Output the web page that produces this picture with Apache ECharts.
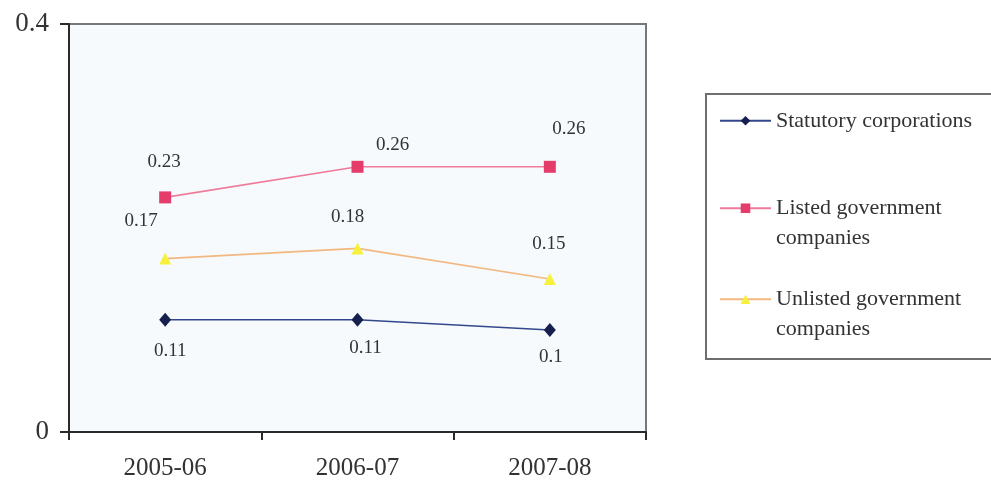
<!DOCTYPE html>
<html>
<head>
<meta charset="utf-8">
<script src="https://cdn.jsdelivr.net/npm/echarts@6/dist/echarts.min.js"></script>
<style>
  html, body { margin: 0; padding: 0; background: #ffffff; }
  #chart { width: 991px; height: 484px; }
</style>
</head>
<body>
<div id="chart"></div>
<script>
// Financial years on the category axis
const years = ['2005-06', '2006-07', '2007-08'];

// Ratio per sector and year
const statutoryCorporations = [0.11, 0.11, 0.10];
const listedGovernmentCompanies = [0.23, 0.26, 0.26];
const unlistedGovernmentCompanies = [0.17, 0.18, 0.15];

// Value-axis ticks
const yTicks = [0, 0.4];

// Series names as shown in the legend
const seriesNames = [
  'Statutory corporations',
  'Listed government\ncompanies',
  'Unlisted government\ncompanies'
];

// Hand-placed data label offsets (pixels from each marker)
const labelOffsets = [
  [[5, 31], [8, 28], [1, 27]],
  [[-1, -35], [35, -22], [19, -38]],
  [[-24, -38], [-10, -31], [-1, -35]]
];

const serif = '"Liberation Serif", "DejaVu Serif", serif';
const textColor = '#333333';

function buildSeries(name, values, offsets, symbol, size, markerColor, lineColor) {
  return {
    name: name,
    type: 'line',
    data: values.map((v, i) => ({
      value: v,
      label: { offset: offsets[i] }
    })),
    symbol: symbol,
    symbolSize: size,
    itemStyle: { color: markerColor },
    lineStyle: { color: lineColor, width: 1.6 },
    label: {
      show: true,
      position: 'inside',
      fontFamily: serif,
      fontSize: 19,
      color: textColor,
      formatter: p => String(p.value)
    },
    emphasis: { disabled: true },
    animation: false
  };
}

// One legend block per series; two-line names get a blank leading line
// so the marker sits beside the first line of text.
function legendAt(name, top, twoLines) {
  return {
    data: [name],
    left: 719,
    top: top,
    padding: 0,
    itemWidth: 51,
    itemHeight: 12,
    selectedMode: false,
    formatter: n => (twoLines ? ' \n' + n : n),
    textStyle: {
      fontFamily: serif,
      fontSize: 22,
      color: textColor,
      lineHeight: 29.5
    }
  };
}

const chart = echarts.init(document.getElementById('chart'), null, { renderer: 'canvas' });

chart.setOption({
  backgroundColor: '#ffffff',
  animation: false,
  grid: {
    left: 69,
    right: 345,
    top: 24,
    bottom: 52,
    show: true,
    backgroundColor: '#f6fafc',
    borderColor: '#777777',
    borderWidth: 2
  },
  xAxis: {
    type: 'category',
    data: years,
    boundaryGap: true,
    axisLine: { lineStyle: { color: '#2a2a2a', width: 2 } },
    axisTick: { show: true, length: 8, inside: false, lineStyle: { color: '#2a2a2a', width: 2 } },
    axisLabel: {
      fontFamily: serif,
      fontSize: 25,
      color: textColor,
      margin: 24
    },
    splitLine: { show: false }
  },
  yAxis: {
    type: 'value',
    min: yTicks[0],
    max: yTicks[yTicks.length - 1],
    interval: yTicks[1] - yTicks[0],
    axisLine: { show: true, lineStyle: { color: '#2a2a2a', width: 2 } },
    axisTick: { show: true, length: 9, lineStyle: { color: '#2a2a2a', width: 2 } },
    axisLabel: {
      fontFamily: serif,
      fontSize: 27,
      color: textColor,
      margin: 20,
      formatter: v => String(v)
    },
    splitLine: { show: false }
  },
  legend: [
    legendAt(seriesNames[0], 106, false),
    legendAt(seriesNames[1], 164, true),
    legendAt(seriesNames[2], 255, true)
  ],
  graphic: [{
    type: 'rect',
    shape: { x: 706, y: 94, width: 320, height: 265 },
    style: { fill: 'none', stroke: '#6e6e6e', lineWidth: 2 },
    silent: true,
    z: -1
  }],
  series: [
    buildSeries(seriesNames[0], statutoryCorporations, labelOffsets[0], 'diamond', [12, 14], '#16204f', '#34478c'),
    buildSeries(seriesNames[1], listedGovernmentCompanies, labelOffsets[1], 'rect', 12, '#e43d6b', '#ef7b9a'),
    buildSeries(seriesNames[2], unlistedGovernmentCompanies, labelOffsets[2], 'triangle', 12, '#f6f23c', '#f2b880')
  ]
});
</script>
</body>
</html>
